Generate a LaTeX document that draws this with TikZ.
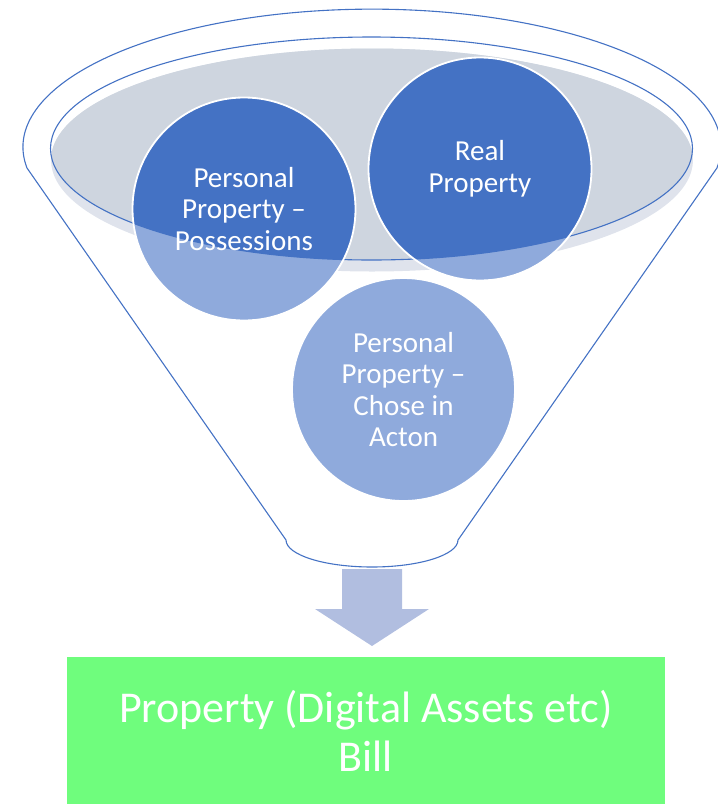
\documentclass[tikz,border=0pt]{standalone}
\usepackage{fontspec}
\setmainfont{Carlito}
\pgfdeclarelayer{bg}
\pgfsetlayers{bg,main}
\definecolor{dblue}{RGB}{68,114,196}
\definecolor{lblue}{RGB}{143,170,220}
\definecolor{dgrey}{RGB}{206,213,223}
\definecolor{lgrey}{RGB}{223,227,236}
\definecolor{arrowc}{RGB}{177,190,224}
\definecolor{billgreen}{RGB}{111,253,125}
\begin{document}
\begin{tikzpicture}[x=1pt,y=1pt,
  bubble/.style={circle, minimum size=223pt, inner sep=0pt, draw=white, line width=1.8pt,
    text=white, align=center, font=\fontsize{29}{31.5}\selectfont},
  outl/.style={draw=dblue, line width=1.1pt},
  billbox/.style={rectangle, fill=billgreen, minimum width=598.5pt, minimum height=147pt,
    inner sep=0pt, text=white, align=center, font=\fontsize{44}{49}\selectfont}]
\useasboundingbox (0,0) rectangle (718,-804);

\node[bubble] (poss) at (244,-209) {Personal\\Property –\\Possessions};
\node[bubble] (real) at (480,-169) {Real\\Property};
\node[bubble] (chose) at (403.5,-389.5) {Personal\\Property –\\Chose in\\Acton};

\begin{pgfonlayer}{bg}
  \fill[lgrey] (372,-160) ellipse [x radius=321, y radius=111.5];
  \begin{scope}
    \clip (371.5,-148.5) ellipse [x radius=321, y radius=111.5];
    \fill[dgrey] (372,-160) ellipse [x radius=321, y radius=111.5];
  \end{scope}
  \fill[lblue] (poss.center) circle (111.5) (real.center) circle (111.5) (chose.center) circle (111.5);
  \begin{scope}
    \clip (371.5,-148.5) ellipse [x radius=321, y radius=111.5];
    \fill[dblue] (poss.center) circle (111.5) (real.center) circle (111.5);
  \end{scope}
  \draw[outl] (371.5,-148.5) ellipse [x radius=321, y radius=111.5];
\end{pgfonlayer}

\draw[outl] (27,-168) arc[start angle=188.7, end angle=-8.7, x radius=349, y radius=138]
  -- (458,-540) arc[start angle=0, end angle=-180, x radius=86, y radius=27] -- cycle;

\fill[arrowc] (342,-569) -- (402,-569) -- (402,-609) -- (429,-609) -- (372,-646)
  -- (315,-609) -- (342,-609) -- cycle;

\node[billbox] (bill) at (365.75,-730.5) {Property (Digital Assets etc)\\Bill};
\end{tikzpicture}
\end{document}
